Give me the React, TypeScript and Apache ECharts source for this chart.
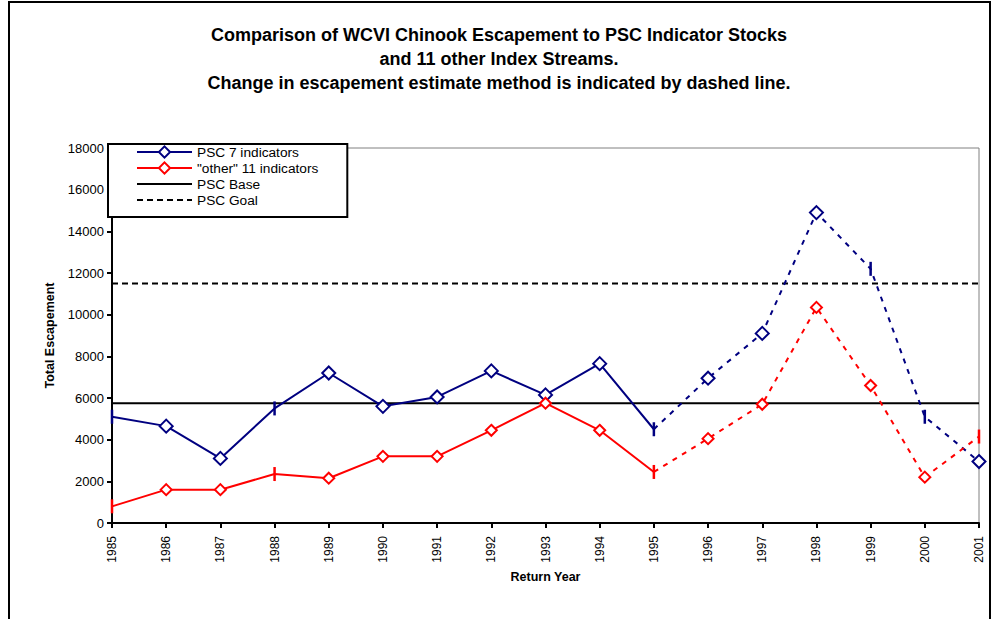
import React, { useEffect, useRef } from "react";
import * as echarts from "echarts";

const years = ["1985", "1986", "1987", "1988", "1989", "1990", "1991", "1992", "1993", "1994", "1995", "1996", "1997", "1998", "1999", "2000", "2001"];
const psc7 = [5100, 4650, 3100, 5500, 7200, 5600, 6050, 7300, 6150, 7650, 4500, 6950, 9100, 14900, 12200, 5100, 2950];
const other11 = [800, 1600, 1600, 2350, 2150, 3200, 3200, 4450, 5750, 4450, 2450, 4050, 5700, 10350, 6600, 2200, 4150];
const pscBase = 5750;
const pscGoal = 11500;
const methodChangeIndex = 10;
const tickPointsBlue = [0, 3, 10, 14, 15];
const tickPointsRed = [0, 3, 10, 16];
const yTicks = { min: 0, max: 18000, interval: 2000 };

const NAVY = "#000080";
const RED = "#FF0000";
const FONT = "'Liberation Sans', Arial, sans-serif";

function buildData(values: number[], color: string, ticks: number[], part: "solid" | "dashed") {
  return values.map((v, i) => {
    const inPart = part === "solid" ? i <= methodChangeIndex : i >= methodChangeIndex;
    if (!inPart) return "-";
    if (part === "dashed" && i === methodChangeIndex) {
      return { value: v, symbol: "none" };
    }
    if (ticks.includes(i)) {
      return { value: v, symbol: "rect", symbolSize: [2.5, 14], itemStyle: { color, borderWidth: 0 } };
    }
    return v;
  });
}

export default function App() {
  const ref = useRef<HTMLDivElement>(null);
  useEffect(() => {
    if (!ref.current) return;
    const chart = echarts.init(ref.current, null, { renderer: "svg" });
    const option: any = {
      animation: false,
      backgroundColor: "#ffffff",
      textStyle: { fontFamily: FONT, color: "#000" },
      title: {
        text: "Comparison of WCVI Chinook Escapement to PSC Indicator Stocks\nand 11 other Index Streams.\nChange in escapement estimate method is indicated by dashed line.",
        left: "center",
        top: 18,
        textStyle: { fontFamily: FONT, fontSize: 18, fontWeight: "bold", color: "#000", lineHeight: 24 },
      },
      graphic: [
        {
          type: "rect",
          shape: { x: 9, y: 2, width: 981, height: 700 },
          style: { fill: "none", stroke: "#000", lineWidth: 2 },
          silent: true,
        },
      ],
      legend: {
        orient: "vertical",
        left: 108,
        top: 144,
        padding: [1, 29, 10, 28],
        itemWidth: 55,
        itemHeight: 14,
        itemGap: 2,
        backgroundColor: "#fff",
        borderColor: "#000",
        borderWidth: 2,
        borderRadius: 0,
        data: [
          { name: "PSC 7 indicators" },
          { name: "\"other\" 11 indicators" },
          { name: "PSC Base", itemStyle: { opacity: 0 } },
          { name: "PSC Goal", itemStyle: { opacity: 0 } },
        ],
        textStyle: { fontFamily: FONT, fontSize: 13.7, color: "#000", lineHeight: 14 },
        z: 10,
      },
      grid: {
        left: 112,
        right: 19,
        top: 148,
        bottom: 96,
        show: true,
        borderColor: "#808080",
        borderWidth: 1,
        backgroundColor: "transparent",
      },
      xAxis: {
        type: "category",
        data: years,
        boundaryGap: false,
        name: "Return Year",
        nameLocation: "middle",
        nameGap: 47,
        nameTextStyle: { fontFamily: FONT, fontSize: 12.5, fontWeight: "bold", color: "#000" },
        axisLine: { lineStyle: { color: "#000", width: 2 } },
        axisTick: { alignWithLabel: true, length: 5, lineStyle: { color: "#000", width: 2 } },
        axisLabel: { rotate: 90, fontFamily: FONT, fontSize: 12, color: "#000", margin: 13 },
        splitLine: { show: false },
      },
      yAxis: {
        type: "value",
        min: yTicks.min,
        max: yTicks.max,
        interval: yTicks.interval,
        name: "Total Escapement",
        nameLocation: "middle",
        nameGap: 45,
        nameTextStyle: { fontFamily: FONT, fontSize: 12.5, fontWeight: "bold", color: "#000" },
        axisLine: { show: true, lineStyle: { color: "#000", width: 2 } },
        axisTick: { show: true, length: 5, lineStyle: { color: "#000", width: 2 } },
        axisLabel: { fontFamily: FONT, fontSize: 13, color: "#000", margin: 8, formatter: (v: number) => String(v) },
        splitLine: { show: false },
      },
      series: [
        {
          name: "PSC Base",
          type: "line",
          data: years.map(() => pscBase),
          symbol: "none",
          lineStyle: { color: "#000", width: 2 },
          itemStyle: { color: "#000" },
          z: 1,
        },
        {
          name: "PSC Goal",
          type: "line",
          data: years.map(() => pscGoal),
          symbol: "none",
          lineStyle: { color: "#000", width: 2, type: [6, 4] },
          itemStyle: { color: "#000" },
          z: 1,
        },
        {
          name: "PSC 7 indicators",
          type: "line",
          data: buildData(psc7, NAVY, tickPointsBlue, "solid"),
          symbol: "emptyDiamond",
          symbolSize: 13,
          lineStyle: { color: NAVY, width: 2 },
          itemStyle: { color: NAVY, borderColor: NAVY, borderWidth: 2 },
          z: 3,
        },
        {
          name: "PSC 7 indicators (new method)",
          type: "line",
          data: buildData(psc7, NAVY, tickPointsBlue, "dashed"),
          symbol: "emptyDiamond",
          symbolSize: 13,
          lineStyle: { color: NAVY, width: 2, type: [5, 6] },
          itemStyle: { color: NAVY, borderColor: NAVY, borderWidth: 2 },
          z: 3,
        },
        {
          name: "\"other\" 11 indicators",
          type: "line",
          data: buildData(other11, RED, tickPointsRed, "solid"),
          symbol: "emptyDiamond",
          symbolSize: 11,
          lineStyle: { color: RED, width: 2 },
          itemStyle: { color: RED, borderColor: RED, borderWidth: 2 },
          z: 3,
        },
        {
          name: "\"other\" 11 indicators (new method)",
          type: "line",
          data: buildData(other11, RED, tickPointsRed, "dashed"),
          symbol: "emptyDiamond",
          symbolSize: 11,
          lineStyle: { color: RED, width: 2, type: [5, 6] },
          itemStyle: { color: RED, borderColor: RED, borderWidth: 2 },
          z: 3,
        },
      ],
    };
    chart.setOption(option);
    return () => chart.dispose();
  }, []);
  return (
    <div
      ref={ref}
      style={{ position: "fixed", left: 0, top: 0, width: 998, height: 619, background: "#fff" }}
    />
  );
}
